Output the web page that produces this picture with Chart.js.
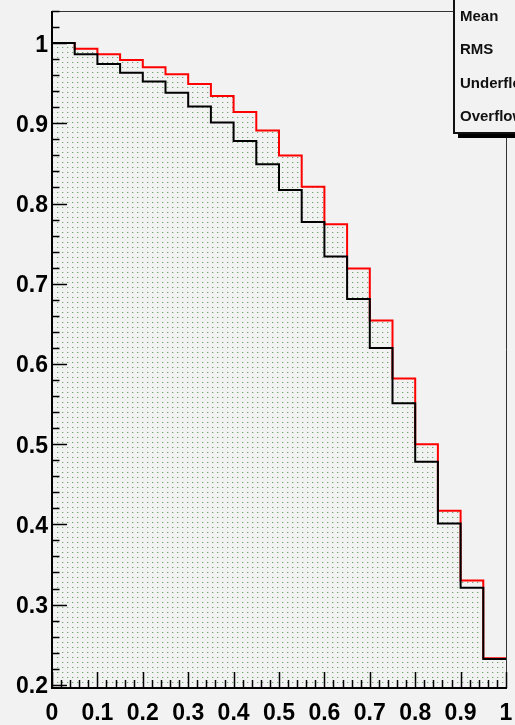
<!DOCTYPE html>
<html>
<head>
<meta charset="utf-8">
<script src="https://cdn.jsdelivr.net/npm/chart.js@4.4.0/dist/chart.umd.min.js"></script>
<style>
  html, body { margin: 0; padding: 0; background: #f2f2f2; }
  #wrap { width: 515px; height: 725px; }
</style>
</head>
<body>
<div id="wrap"><canvas id="hist"></canvas></div>
<script>
// bin edges (20 bins of 0.05) and the two efficiency histograms
const binEdges = [0, 0.05, 0.1, 0.15, 0.2, 0.25, 0.3, 0.35, 0.4, 0.45, 0.5,
                  0.55, 0.6, 0.65, 0.7, 0.75, 0.8, 0.85, 0.9, 0.95, 1.0];
const redCounts = [1.0, 0.993, 0.986, 0.979, 0.970, 0.961, 0.949, 0.934, 0.914, 0.891,
                   0.860, 0.821, 0.774, 0.719, 0.654, 0.582, 0.500, 0.417, 0.330, 0.233];
const blackCounts = [1.0, 0.986, 0.974, 0.963, 0.952, 0.938, 0.921, 0.901, 0.878, 0.849,
                     0.817, 0.777, 0.734, 0.681, 0.620, 0.551, 0.478, 0.401, 0.321, 0.232];

const xTickValues = [0, 0.1, 0.2, 0.3, 0.4, 0.5, 0.6, 0.7, 0.8, 0.9, 1];
const xTickLabels = ['0', '0.1', '0.2', '0.3', '0.4', '0.5', '0.6', '0.7', '0.8', '0.9', '1'];
const yTickValues = [0.2, 0.3, 0.4, 0.5, 0.6, 0.7, 0.8, 0.9, 1];
const yTickLabels = ['0.2', '0.3', '0.4', '0.5', '0.6', '0.7', '0.8', '0.9', '1'];
const statLabels = ['Mean', 'RMS', 'Underflow', 'Overflow'];

const yMin = 0.196, yMax = 1.04;
const minorStep = 0.02;
const bg = '#f2f2f2';

// step points: one per left bin edge, plus the closing edge at x = 1
function stepPoints(counts) {
  return binEdges.map((x, i) => ({ x: x, y: counts[Math.min(i, counts.length - 1)] }));
}

// dotted fill pattern
function dotPattern() {
  const c = document.createElement('canvas');
  c.width = 5; c.height = 5;
  const g = c.getContext('2d');
  g.fillStyle = bg;
  g.fillRect(0, 0, 5, 5);
  g.fillStyle = 'rgb(110,165,110)';
  g.fillRect(2, 2, 1, 1);
  g.fillStyle = 'rgb(200,220,200)';
  g.fillRect(3, 2, 1, 1);
  return g.createPattern(c, 'repeat');
}

const framePlugin = {
  id: 'frame',
  beforeDraw(chart) {
    const ctx = chart.ctx;
    ctx.save();
    ctx.fillStyle = bg;
    ctx.fillRect(0, 0, chart.width, chart.height);
    ctx.restore();
  },
  afterDraw(chart) {
    const ctx = chart.ctx;
    const a = chart.chartArea;
    const xs = chart.scales.x, ys = chart.scales.y;
    ctx.save();

    // thin top / right frame
    ctx.strokeStyle = '#333';
    ctx.lineWidth = 1;
    ctx.beginPath();
    ctx.moveTo(a.left, a.top + 0.5);
    ctx.lineTo(a.right + 0.5, a.top + 0.5);
    ctx.lineTo(a.right + 0.5, a.bottom);
    ctx.stroke();

    // axes
    ctx.strokeStyle = '#000';
    ctx.lineWidth = 2;
    ctx.beginPath();
    ctx.moveTo(a.left, a.top);
    ctx.lineTo(a.left, a.bottom);
    ctx.lineTo(a.right + 1, a.bottom);
    ctx.stroke();

    // y ticks, pointing into the frame
    ctx.lineWidth = 1.5;
    ctx.beginPath();
    for (let v = 0.2; v <= yMax + 1e-9; v += minorStep) {
      const major = yTickValues.some(t => Math.abs(t - v) < 1e-6);
      const py = Math.round(ys.getPixelForValue(v)) + 0.5;
      ctx.moveTo(a.left, py);
      ctx.lineTo(a.left + (major ? 15 : 7.5), py);
    }
    // x ticks, pointing up
    for (let v = 0; v <= 1 + 1e-9; v += minorStep) {
      const major = xTickValues.some(t => Math.abs(t - v) < 1e-6);
      const px = Math.round(xs.getPixelForValue(v)) + 0.5;
      ctx.moveTo(px, a.bottom);
      ctx.lineTo(px, a.bottom - (major ? 16 : 8));
    }
    ctx.stroke();

    // tick labels
    ctx.fillStyle = '#000';
    ctx.font = 'bold 23px "Liberation Sans"';
    ctx.textBaseline = 'alphabetic';
    ctx.textAlign = 'right';
    yTickValues.forEach((v, i) => {
      ctx.fillText(yTickLabels[i], a.left - 4, ys.getPixelForValue(v) + 8.5);
    });
    ctx.textAlign = 'center';
    xTickValues.forEach((v, i) => {
      ctx.fillText(xTickLabels[i], xs.getPixelForValue(v), a.bottom + 32);
    });

    // statistics box in the top right corner
    const bx = 454, by = -2, bw = 80, bh = 135;
    ctx.fillStyle = '#000';
    ctx.fillRect(bx + 4, by + bh, bw, 5);
    ctx.fillStyle = bg;
    ctx.fillRect(bx, by, bw, bh);
    ctx.strokeStyle = '#111';
    ctx.lineWidth = 2;
    ctx.strokeRect(bx, by, bw, bh);
    ctx.fillStyle = '#111';
    ctx.font = 'bold 15px "Liberation Sans"';
    ctx.textAlign = 'left';
    statLabels.forEach((s, i) => ctx.fillText(s, 460, 21 + i * 33.3));
    ctx.restore();
  }
};

const chart = new Chart(document.getElementById('hist').getContext('2d'), {
  type: 'line',
  data: {
    datasets: [
      {
        label: 'black',
        data: stepPoints(blackCounts),
        borderColor: '#000',
        borderWidth: 2,
        stepped: true,
        pointRadius: 0,
        fill: false
      },
      {
        label: 'red',
        data: stepPoints(redCounts),
        borderColor: '#ff0000',
        borderWidth: 2,
        stepped: true,
        pointRadius: 0,
        fill: 'start',
        backgroundColor: dotPattern()
      }
    ]
  },
  options: {
    responsive: true,
    maintainAspectRatio: false,
    animation: false,
    layout: { padding: { top: 11, right: 9, left: 0, bottom: 0 } },
    plugins: { legend: { display: false }, tooltip: { enabled: false } },
    scales: {
      x: {
        type: 'linear',
        min: 0,
        max: 1,
        afterBuildTicks: s => { s.ticks = xTickValues.map(v => ({ value: v })); },
        afterFit: s => { s.height = 37; },
        grid: { display: false },
        border: { display: false },
        ticks: { display: false }
      },
      y: {
        min: yMin,
        max: yMax,
        afterBuildTicks: s => { s.ticks = yTickValues.map(v => ({ value: v })); },
        afterFit: s => { s.width = 52; },
        grid: { display: false },
        border: { display: false },
        ticks: { display: false }
      }
    }
  },
  plugins: [framePlugin]
});
</script>
</body>
</html>
